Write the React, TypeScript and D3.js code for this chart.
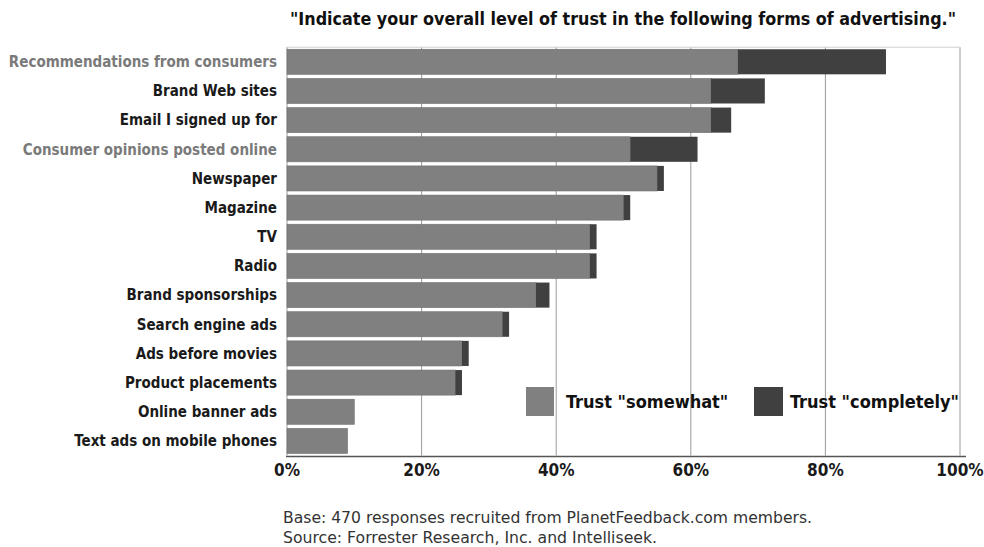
import React from "react";
import * as d3 from "d3";

const categories = [
  "Recommendations from consumers",
  "Brand Web sites",
  "Email I signed up for",
  "Consumer opinions posted online",
  "Newspaper",
  "Magazine",
  "TV",
  "Radio",
  "Brand sponsorships",
  "Search engine ads",
  "Ads before movies",
  "Product placements",
  "Online banner ads",
  "Text ads on mobile phones",
];
const somewhat = [67, 63, 63, 51, 55, 50, 45, 45, 37, 32, 26, 25, 10, 9];
const completely = [22, 8, 3, 10, 1, 1, 1, 1, 2, 1, 1, 1, 0, 0];
const highlighted = ["Recommendations from consumers", "Consumer opinions posted online"];
const ticks = [0, 20, 40, 60, 80, 100];
const seriesNames = ['Trust "somewhat"', 'Trust "completely"'];

const W = 984;
const H = 547;
const left = 287;
const right = 960;
const top = 47.2;
const bottom = 455.5;
const cLight = "#808080";
const cDark = "#404040";
const narrow = "'Liberation Sans Narrow', 'DejaVu Sans Condensed', 'Arial Narrow', sans-serif";

export default function App() {
  const x = d3.scaleLinear().domain([0, 100]).range([left, right]);
  const y = d3.scaleBand<string>().domain(categories).range([top, bottom]).paddingInner(0.14).paddingOuter(0.07);
  const bh = y.bandwidth();
  return (
    <svg width={W} height={H} style={{ position: "absolute", left: 0, top: 0, background: "#fff" }}>
      <rect x={0} y={0} width={W} height={H} fill="#fff" />
      <text x={290} y={25} fontFamily={narrow} fontWeight="bold" fontSize={18.5} fill="#111" textLength={666} lengthAdjust="spacingAndGlyphs">
        "Indicate your overall level of trust in the following forms of advertising."
      </text>
      {ticks.map((t) => (
        <line key={"g" + t} x1={x(t)} x2={x(t)} y1={top} y2={bottom} stroke="#9a9a9a" strokeWidth={1} />
      ))}
      <line x1={left} x2={right} y1={top} y2={top} stroke="#d0d0d0" strokeWidth={1} />
      {categories.map((c, i) => (
        <g key={c}>
          <rect x={x(0)} y={y(c)!} width={x(somewhat[i]) - x(0)} height={bh} fill={cLight} stroke="#707070" strokeWidth={0.6} />
          {completely[i] > 0 && (
            <rect x={x(somewhat[i])} y={y(c)!} width={x(somewhat[i] + completely[i]) - x(somewhat[i])} height={bh} fill={cDark} />
          )}
          <text x={277} y={y(c)! + bh / 2} dy="0.35em" textAnchor="end" fontFamily={narrow} fontWeight="bold" fontSize={15}
            fill={highlighted.includes(c) ? "#7a7a7a" : "#1a1a1a"}>
            {c}
          </text>
        </g>
      ))}
      <line x1={left - 1} x2={966} y1={bottom + 1} y2={bottom + 1} stroke="#555" strokeWidth={1.5} />
      {ticks.map((t) => (
        <text key={"t" + t} x={x(t)} y={476} textAnchor="middle" fontFamily={narrow} fontWeight="bold" fontSize={17} fill="#1a1a1a">
          {t}%
        </text>
      ))}
      <rect x={526} y={387} width={28} height={29} fill={cLight} />
      <text x={566} y={408} fontFamily={narrow} fontWeight="bold" fontSize={18} fill="#111">{seriesNames[0]}</text>
      <rect x={754} y={387} width={29} height={29} fill={cDark} />
      <text x={790} y={408} fontFamily={narrow} fontWeight="bold" fontSize={18} fill="#111">{seriesNames[1]}</text>
      <text x={283} y={523} fontFamily="'DejaVu Sans', Verdana, sans-serif" fontSize={15.5} fill="#333" textLength={529} lengthAdjust="spacingAndGlyphs">
        Base: 470 responses recruited from PlanetFeedback.com members.
      </text>
      <text x={283} y={543} fontFamily="'DejaVu Sans', Verdana, sans-serif" fontSize={15.5} fill="#333" textLength={374} lengthAdjust="spacingAndGlyphs">
        Source: Forrester Research, Inc. and Intelliseek.
      </text>
    </svg>
  );
}
